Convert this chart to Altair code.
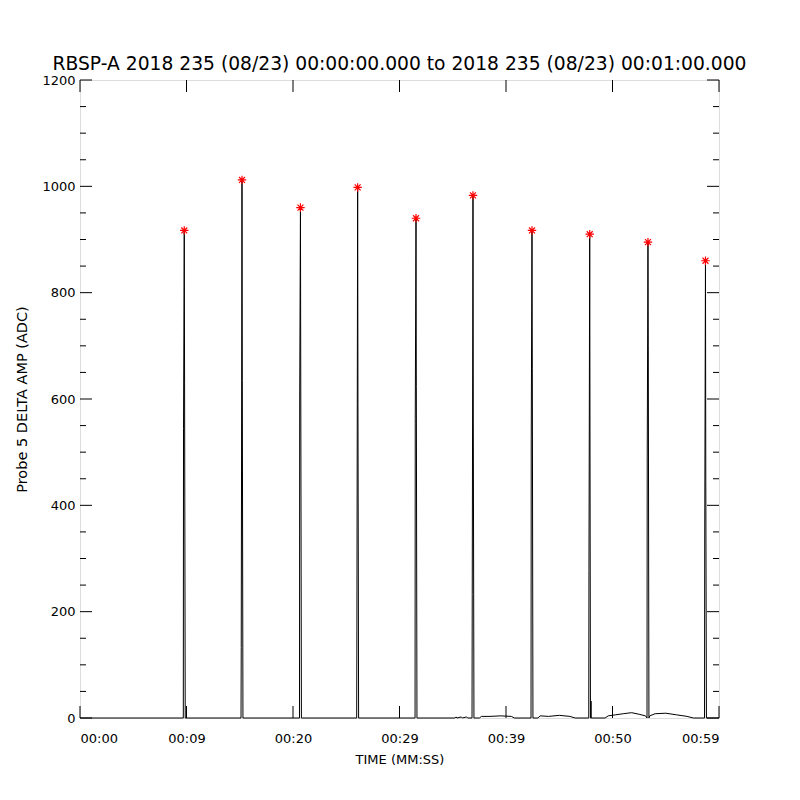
import altair as alt
import pandas as pd

# ---- data ----
title_text = "RBSP-A 2018 235 (08/23) 00:00:00.000 to 2018 235 (08/23) 00:01:00.000"
x_tick_values = [0, 10, 20, 30, 40, 50, 60]
x_tick_labels = ["00:00", "00:09", "00:20", "00:29", "00:39", "00:50", "00:59"]
y_major = [0, 200, 400, 600, 800, 1000, 1200]
y_minor = [50, 100, 150, 250, 300, 350, 450, 500, 550, 650, 700, 750, 850, 900, 950, 1050, 1100, 1150]

# trace (seconds, ADC)
trace_t = [0.0, 9.70, 9.72, 9.79, 9.82, 9.88,
           15.12, 15.14, 15.21, 15.24, 15.30,
           20.61, 20.63, 20.70, 20.73, 20.79,
           25.98, 26.00, 26.07, 26.10, 26.16,
           31.46, 31.48, 31.55, 31.58, 31.64,
           35.2, 35.3, 35.4, 35.8, 35.9, 36.3, 36.4,
           36.81, 36.83, 36.90, 36.93, 36.99,
           37.5, 37.7, 38.5, 39.5, 40.5, 40.8,
           42.35, 42.37, 42.44, 42.47, 42.53,
           43.0, 43.2, 44.0, 45.0, 46.0, 46.5,
           47.77, 47.79, 47.86, 47.89, 47.93, 47.97, 47.98, 47.99,
           49.3, 49.6, 50.3, 51.0, 51.8, 52.5, 53.1,
           53.24, 53.26, 53.33, 53.36, 53.42,
           53.5, 54.0, 55.0, 56.0, 57.0, 57.6,
           58.64, 58.66, 58.73, 58.76, 58.82, 60.0]
trace_v = [0, 0, 545, 917, 630, 0,
           0, 133, 1012, 635, 0,
           0, 598, 960, 619, 0,
           0, 175, 998, 590, 0,
           0, 564, 940, 623, 0,
           0, 2, 0, 2, 0, 2, 0,
           0, 232, 983, 553, 0,
           0, 3, 3, 4, 3, 0,
           0, 525, 917, 658, 0,
           0, 4, 3, 5, 3, 0,
           0, 277, 910, 487, 0, 0, 32, 0,
           0, 4, 6, 8, 10, 7, 4,
           0, 491, 895, 700, 0,
           4, 8, 9, 6, 3, 0,
           0, 331, 860, 446, 0, 0]

peak_t = [9.79, 15.21, 20.70, 26.07, 31.55, 36.90, 42.44, 47.86, 53.33, 58.73]
peak_v = [917, 1012, 960, 998, 940, 983, 917, 910, 895, 860]

W, H = 639, 638
FONT = "DejaVu Sans"

xscale = alt.Scale(domain=[0, 60], nice=False, zero=False)
yscale = alt.Scale(domain=[0, 1200], nice=False)

label_map = "{" + ",".join(f"'{v}':'{l}'" for v, l in zip(x_tick_values, x_tick_labels)) + "}"
x_axis = alt.Axis(values=x_tick_values, labelExpr=f"{label_map}[''+datum.value]",
                  ticks=False, domain=False, grid=False, labelPadding=14,
                  labelFont=FONT, labelFontSize=13, labelColor="black",
                  title="TIME (MM:SS)", titleFont=FONT, titleFontSize=13,
                  titleFontWeight="normal", titleColor="black", titlePadding=8)
y_axis = alt.Axis(values=y_major, format="d", ticks=False, domain=False, grid=False,
                  labelPadding=5, labelFont=FONT, labelFontSize=13, labelColor="black",
                  title="Probe 5 DELTA AMP (ADC)", titleFont=FONT, titleFontSize=14.5,
                  titleFontWeight="normal", titleColor="black", titlePadding=12)

trace_df = pd.DataFrame({"t": trace_t, "v": trace_v, "o": range(len(trace_t))})
peak_df = pd.DataFrame({"t": peak_t, "v": peak_v})

line = alt.Chart(trace_df).mark_line(color="black", strokeWidth=1, interpolate="linear").encode(
    x=alt.X("t:Q", scale=xscale, axis=x_axis),
    y=alt.Y("v:Q", scale=yscale, axis=y_axis),
    order="o:Q",
)

star_path = "M-1,0L1,0M0,-1L0,1M-0.7,-0.7L0.7,0.7M-0.7,0.7L0.7,-0.7"
stars = alt.Chart(peak_df).mark_point(shape=star_path, filled=False, color="red",
                                      strokeWidth=1.2, size=72, opacity=1).encode(
    x=alt.X("t:Q", scale=xscale),
    y=alt.Y("v:Q", scale=yscale),
)


def yticks(vals, length, side):
    df = pd.DataFrame({"y": vals})
    if side == "left":
        xa, xb = 0, length
    else:
        xa, xb = W, W - length
    return alt.Chart(df).mark_rule(color="black", strokeWidth=1).encode(
        y=alt.Y("y:Q", scale=yscale), x=alt.value(xa), x2=alt.value(xb))


def xticks(vals, length, side):
    df = pd.DataFrame({"t": vals})
    if side == "bottom":
        ya, yb = H, H - length
    else:
        ya, yb = 0, length
    return alt.Chart(df).mark_rule(color="black", strokeWidth=1).encode(
        x=alt.X("t:Q", scale=xscale), y=alt.value(ya), y2=alt.value(yb))


layers = [
    yticks(y_major, 12, "left"), yticks(y_minor, 6, "left"),
    yticks(y_major, 12, "right"), yticks(y_minor, 6, "right"),
    xticks(x_tick_values, 12, "bottom"), xticks(x_tick_values, 12, "top"),
    line, stars,
]

chart = alt.layer(*layers).properties(
    width=W, height=H,
    title=alt.TitleParams(title_text, font=FONT, fontSize=18.7, fontWeight="normal",
                          color="black", anchor="middle", offset=0),
    autosize=alt.AutoSizeParams(type="none"),
    padding={"left": 72, "top": 72, "right": 73, "bottom": 74},
).configure_view(stroke="black", strokeWidth=1).configure(background="white")

chart.save("out.html", embed_options={"renderer": "svg", "actions": False})
